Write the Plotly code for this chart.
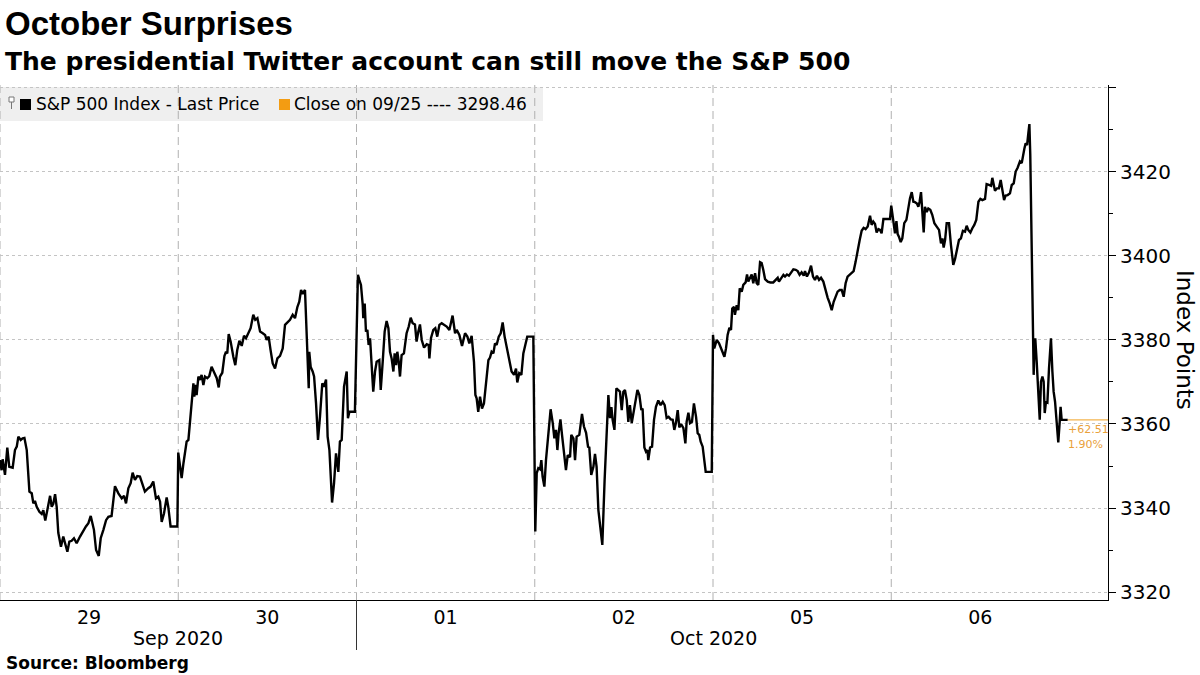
import plotly.graph_objects as go

# ---------------- data ----------------
day_labels = ["29", "30", "01", "02", "05", "06"]
month_labels = ["Sep 2020", "Oct 2020"]
month_centers = [1.0, 4.0]          # in trading-session units
y_ticks = [3320, 3340, 3360, 3380, 3400, 3420, 3440]
y_minor = [3330, 3350, 3370, 3390, 3410, 3430]
close_0925 = 3298.46
series_name = "S&P 500 Index - Last Price"

# (fraction of trading session, index level)
sep29 = [(0.000, 3351.4), (0.009, 3349.0), (0.015, 3351.6), (0.028, 3347.9), (0.041, 3354.4), (0.052, 3349.8),
         (0.071, 3349.6), (0.084, 3353.8), (0.094, 3354.6), (0.103, 3357.0), (0.116, 3356.2), (0.127, 3356.6),
         (0.137, 3356.7), (0.150, 3353.8), (0.165, 3343.9), (0.178, 3343.5), (0.187, 3341.1), (0.196, 3341.7),
         (0.206, 3340.3), (0.221, 3339.1), (0.234, 3338.6), (0.243, 3339.5), (0.254, 3337.0), (0.266, 3339.5),
         (0.281, 3342.9), (0.290, 3340.3), (0.299, 3341.0), (0.309, 3343.3), (0.318, 3340.3), (0.327, 3334.1),
         (0.342, 3330.8), (0.355, 3333.2), (0.365, 3331.6), (0.378, 3329.6), (0.389, 3332.0), (0.402, 3332.2),
         (0.415, 3332.8), (0.430, 3331.6), (0.449, 3333.2), (0.468, 3334.8), (0.482, 3335.6), (0.496, 3336.4),
         (0.509, 3338.1), (0.527, 3334.8), (0.539, 3330.0), (0.554, 3328.6), (0.565, 3332.8), (0.580, 3334.8),
         (0.595, 3337.1), (0.608, 3337.9), (0.626, 3338.1), (0.645, 3345.2), (0.664, 3343.5), (0.683, 3342.3),
         (0.696, 3342.9), (0.707, 3341.1), (0.720, 3344.7), (0.733, 3345.9), (0.744, 3348.4), (0.757, 3346.7),
         (0.770, 3347.6), (0.785, 3347.5), (0.800, 3345.5), (0.813, 3343.9), (0.832, 3344.7), (0.845, 3345.1),
         (0.860, 3346.3), (0.875, 3342.3), (0.888, 3342.7), (0.898, 3341.5), (0.907, 3336.7), (0.920, 3338.7),
         (0.935, 3342.5), (0.944, 3340.3), (0.957, 3335.6), (0.995, 3335.6)]

sep30 = [(0.000, 3353.2), (0.010, 3349.8), (0.019, 3347.1), (0.029, 3350.6), (0.038, 3353.8), (0.047, 3355.8),
         (0.057, 3356.2), (0.066, 3361.0), (0.075, 3365.7), (0.085, 3369.7), (0.090, 3366.5), (0.098, 3369.3),
         (0.103, 3366.9), (0.113, 3371.3), (0.122, 3370.5), (0.131, 3371.7), (0.141, 3369.3), (0.150, 3371.3),
         (0.163, 3370.9), (0.174, 3371.4), (0.187, 3373.6), (0.201, 3372.1), (0.216, 3370.9), (0.227, 3368.7),
         (0.234, 3371.3), (0.247, 3372.2), (0.259, 3376.2), (0.268, 3377.2), (0.275, 3376.8), (0.283, 3381.4),
         (0.294, 3379.6), (0.309, 3376.0), (0.320, 3374.0), (0.331, 3377.6), (0.343, 3379.8), (0.356, 3378.6),
         (0.369, 3381.0), (0.380, 3380.4), (0.393, 3381.6), (0.406, 3382.8), (0.421, 3386.0), (0.432, 3384.8),
         (0.444, 3385.2), (0.459, 3382.0), (0.474, 3381.6), (0.487, 3381.2), (0.496, 3380.0), (0.507, 3380.8),
         (0.518, 3377.6), (0.530, 3374.4), (0.543, 3373.2), (0.556, 3375.6), (0.571, 3376.2), (0.586, 3378.0),
         (0.599, 3383.6), (0.612, 3384.1), (0.627, 3384.8), (0.642, 3386.0), (0.655, 3385.2), (0.668, 3387.8),
         (0.679, 3389.1), (0.689, 3391.9), (0.698, 3391.0), (0.711, 3391.9), (0.720, 3382.4), (0.726, 3372.9),
         (0.732, 3368.5), (0.735, 3377.2), (0.743, 3373.6), (0.754, 3372.5), (0.762, 3371.3), (0.773, 3364.9),
         (0.784, 3356.2), (0.795, 3361.7), (0.808, 3369.7), (0.818, 3368.9), (0.829, 3370.6), (0.838, 3357.0),
         (0.848, 3353.8), (0.863, 3341.3), (0.874, 3345.9), (0.885, 3353.0), (0.898, 3348.6), (0.907, 3355.8),
         (0.917, 3356.2), (0.930, 3368.9), (0.945, 3372.5), (0.952, 3361.4), (0.960, 3362.9), (0.991, 3362.9)]

oct01 = [(0.002, 3390.7), (0.008, 3395.5), (0.016, 3394.3), (0.025, 3393.1), (0.035, 3388.3), (0.038, 3385.2),
         (0.046, 3388.7), (0.053, 3382.0), (0.061, 3382.4), (0.068, 3378.8), (0.076, 3380.4), (0.085, 3374.8),
         (0.094, 3367.7), (0.104, 3372.5), (0.113, 3374.8), (0.128, 3375.2), (0.136, 3368.1), (0.147, 3374.8),
         (0.158, 3382.0), (0.169, 3384.5), (0.179, 3382.8), (0.188, 3377.2), (0.197, 3375.6), (0.207, 3372.5),
         (0.214, 3376.8), (0.222, 3374.0), (0.229, 3377.2), (0.237, 3374.8), (0.244, 3371.3), (0.253, 3376.4),
         (0.266, 3376.8), (0.281, 3381.6), (0.293, 3383.2), (0.304, 3385.3), (0.315, 3384.0), (0.328, 3383.7),
         (0.337, 3379.6), (0.347, 3382.0), (0.356, 3383.7), (0.366, 3380.0), (0.379, 3378.2), (0.394, 3379.0),
         (0.405, 3378.8), (0.409, 3375.6), (0.418, 3380.5), (0.431, 3382.4), (0.442, 3382.8), (0.453, 3380.8),
         (0.465, 3383.6), (0.478, 3384.0), (0.491, 3383.6), (0.506, 3383.2), (0.521, 3382.4), (0.530, 3384.4),
         (0.539, 3385.8), (0.553, 3381.6), (0.562, 3382.4), (0.577, 3381.2), (0.592, 3378.6), (0.609, 3381.6),
         (0.622, 3380.8), (0.633, 3379.2), (0.646, 3381.0), (0.659, 3374.8), (0.667, 3366.9), (0.674, 3366.1),
         (0.683, 3362.9), (0.693, 3366.5), (0.704, 3363.7), (0.715, 3364.9), (0.726, 3369.3), (0.740, 3375.2),
         (0.749, 3375.8), (0.758, 3377.2), (0.768, 3376.8), (0.777, 3379.2), (0.786, 3378.8), (0.798, 3380.8),
         (0.809, 3381.6), (0.820, 3384.2), (0.831, 3380.8), (0.842, 3378.4), (0.857, 3375.2), (0.870, 3372.5),
         (0.884, 3371.7), (0.895, 3373.2), (0.902, 3369.9), (0.913, 3372.1), (0.925, 3371.7), (0.936, 3376.8),
         (0.947, 3378.8), (0.958, 3380.8), (0.992, 3380.8)]

oct02 = [(0.003, 3334.4), (0.011, 3348.3), (0.020, 3349.5), (0.030, 3349.2), (0.037, 3351.4), (0.044, 3347.5),
         (0.054, 3345.1), (0.063, 3351.4), (0.076, 3357.8), (0.089, 3363.5), (0.101, 3360.2), (0.110, 3356.6),
         (0.119, 3358.6), (0.127, 3353.8), (0.134, 3357.8), (0.144, 3361.1), (0.153, 3357.4), (0.164, 3353.0),
         (0.175, 3349.0), (0.185, 3352.6), (0.198, 3352.1), (0.205, 3357.4), (0.217, 3356.6), (0.226, 3351.4),
         (0.235, 3357.0), (0.250, 3357.4), (0.265, 3362.4), (0.276, 3359.4), (0.288, 3357.9), (0.299, 3354.6),
         (0.306, 3354.4), (0.317, 3347.9), (0.329, 3349.8), (0.338, 3352.9), (0.347, 3349.8), (0.357, 3339.5),
         (0.366, 3336.4), (0.379, 3331.2), (0.392, 3346.7), (0.403, 3357.8), (0.413, 3366.9), (0.422, 3361.4),
         (0.430, 3364.0), (0.437, 3361.0), (0.447, 3358.6), (0.458, 3368.5), (0.469, 3368.1), (0.478, 3367.7),
         (0.488, 3363.3), (0.497, 3367.7), (0.506, 3368.1), (0.516, 3365.7), (0.525, 3360.5), (0.534, 3364.5),
         (0.544, 3360.2), (0.553, 3362.6), (0.564, 3365.1), (0.576, 3368.1), (0.587, 3366.9), (0.598, 3363.3),
         (0.605, 3363.7), (0.615, 3354.4), (0.624, 3353.4), (0.632, 3353.8), (0.637, 3351.4), (0.647, 3354.4),
         (0.658, 3354.6), (0.669, 3361.0), (0.680, 3364.1), (0.693, 3365.6), (0.706, 3364.5), (0.718, 3365.3),
         (0.729, 3364.5), (0.740, 3361.4), (0.751, 3361.7), (0.763, 3361.1), (0.774, 3361.0), (0.783, 3358.6),
         (0.792, 3360.2), (0.802, 3363.3), (0.811, 3359.2), (0.821, 3360.0), (0.834, 3359.0), (0.845, 3355.4),
         (0.852, 3360.5), (0.862, 3362.7), (0.871, 3360.2), (0.882, 3360.5), (0.893, 3364.9), (0.905, 3361.7),
         (0.914, 3357.8), (0.923, 3357.4), (0.931, 3355.8), (0.942, 3354.6), (0.959, 3348.6), (0.993, 3348.6)]

oct05 = [(0.000, 3381.2), (0.007, 3378.0), (0.021, 3380.0), (0.034, 3379.2), (0.049, 3377.6), (0.064, 3376.0),
         (0.073, 3378.0), (0.082, 3381.2), (0.092, 3382.9), (0.101, 3382.4), (0.108, 3387.5), (0.118, 3387.9),
         (0.123, 3386.0), (0.133, 3388.3), (0.142, 3387.1), (0.150, 3392.3), (0.161, 3391.5), (0.170, 3393.1),
         (0.183, 3393.7), (0.191, 3395.6), (0.198, 3393.9), (0.209, 3394.7), (0.217, 3395.6), (0.226, 3393.5),
         (0.236, 3395.9), (0.245, 3393.5), (0.254, 3393.1), (0.264, 3398.5), (0.273, 3398.3), (0.282, 3396.7),
         (0.292, 3394.5), (0.307, 3393.9), (0.322, 3393.7), (0.338, 3393.7), (0.352, 3394.3), (0.363, 3394.8),
         (0.370, 3393.9), (0.381, 3394.5), (0.395, 3395.5), (0.404, 3395.1), (0.415, 3395.6), (0.426, 3395.3),
         (0.438, 3396.1), (0.451, 3396.8), (0.464, 3396.7), (0.475, 3396.4), (0.486, 3395.5), (0.497, 3396.1),
         (0.509, 3395.3), (0.516, 3396.4), (0.527, 3395.1), (0.539, 3396.1), (0.550, 3397.7), (0.561, 3395.1),
         (0.572, 3394.3), (0.583, 3395.3), (0.595, 3394.3), (0.606, 3394.8), (0.619, 3393.9), (0.632, 3391.5),
         (0.643, 3390.1), (0.655, 3388.7), (0.666, 3387.1), (0.677, 3389.1), (0.688, 3390.3), (0.699, 3391.5),
         (0.711, 3391.9), (0.722, 3391.9), (0.733, 3390.3), (0.744, 3393.5), (0.755, 3395.1), (0.767, 3395.6),
         (0.778, 3395.9), (0.789, 3396.4), (0.800, 3398.6), (0.812, 3401.7), (0.823, 3403.8), (0.834, 3406.0),
         (0.845, 3406.7), (0.856, 3406.4), (0.868, 3407.0), (0.881, 3409.6), (0.890, 3407.4), (0.899, 3408.2),
         (0.909, 3407.6), (0.918, 3405.6), (0.928, 3406.4), (0.937, 3406.2), (0.946, 3405.4), (0.956, 3408.8),
         (0.993, 3408.8)]

oct06 = [(0.000, 3412.0), (0.006, 3409.8), (0.014, 3407.8), (0.021, 3405.4), (0.029, 3408.3), (0.036, 3405.2),
         (0.043, 3404.6), (0.053, 3403.3), (0.062, 3404.2), (0.073, 3407.8), (0.085, 3408.6), (0.096, 3411.7),
         (0.105, 3413.7), (0.115, 3415.2), (0.124, 3412.9), (0.133, 3412.8), (0.144, 3412.5), (0.152, 3411.7),
         (0.159, 3412.9), (0.167, 3415.2), (0.174, 3410.5), (0.182, 3405.6), (0.189, 3411.7), (0.199, 3410.5),
         (0.208, 3411.3), (0.219, 3411.0), (0.230, 3409.8), (0.242, 3407.8), (0.255, 3407.0), (0.268, 3406.2),
         (0.279, 3403.0), (0.287, 3404.2), (0.294, 3402.0), (0.302, 3403.8), (0.311, 3407.8), (0.324, 3407.8),
         (0.335, 3402.6), (0.348, 3397.9), (0.358, 3399.3), (0.369, 3401.8), (0.380, 3403.8), (0.391, 3404.2),
         (0.402, 3406.0), (0.414, 3405.8), (0.423, 3407.2), (0.432, 3406.2), (0.444, 3405.6), (0.455, 3406.6),
         (0.466, 3407.4), (0.477, 3408.6), (0.489, 3412.9), (0.500, 3413.6), (0.511, 3413.3), (0.526, 3413.6),
         (0.535, 3417.1), (0.548, 3416.9), (0.560, 3416.7), (0.567, 3418.6), (0.575, 3416.3), (0.582, 3415.5),
         (0.593, 3416.1), (0.604, 3416.1), (0.614, 3418.1), (0.623, 3416.0), (0.633, 3413.3), (0.642, 3414.4),
         (0.653, 3414.5), (0.666, 3414.9), (0.676, 3416.9), (0.687, 3417.3), (0.698, 3420.1), (0.709, 3421.0),
         (0.722, 3422.5), (0.732, 3422.1), (0.739, 3424.2), (0.747, 3425.6), (0.754, 3426.8), (0.762, 3426.4),
         (0.769, 3429.2), (0.775, 3431.4), (0.780, 3424.0), (0.788, 3400.2), (0.795, 3379.6), (0.799, 3371.7),
         (0.803, 3378.0), (0.808, 3380.4), (0.816, 3374.8), (0.825, 3365.3), (0.833, 3361.0), (0.840, 3370.1),
         (0.848, 3371.3), (0.855, 3370.1), (0.861, 3362.6), (0.868, 3365.3), (0.876, 3365.1), (0.885, 3373.2),
         (0.896, 3380.4), (0.904, 3372.5), (0.911, 3367.7), (0.919, 3365.3), (0.928, 3359.8), (0.937, 3355.6),
         (0.945, 3360.5), (0.950, 3364.1), (0.956, 3361.0), (0.965, 3361.0), (0.990, 3360.97)]

sessions = [sep29, sep30, oct01, oct02, oct05, oct06]

# ---------------- build ----------------
t, price = [], []
for i, sess in enumerate(sessions):
    for frac, val in sess:
        t.append(i + frac)
        price.append(val)

last = price[-1]
chg = last - close_0925
pct = chg / close_0925 * 100

W, H = 1200, 675
L, R, T, B = 0, 92, 85, 75
PW, PH = W - L - R, H - T - B
X_END = 6.216


def px(xp):   # pixel x -> paper
    return (xp - L) / PW


def py(yp):   # pixel y -> paper
    return (H - B - yp) / PH


FONT = "DejaVu Sans"
ORANGE = "#f39c12"
ORANGE_TXT = "#e9a03a"

fig = go.Figure()
fig.add_trace(go.Scatter(x=t, y=price, mode="lines", name=series_name,
                         line=dict(color="black", width=2.4), hoverinfo="x+y"))
fig.add_trace(go.Scatter(x=[t[-1], X_END], y=[last, last], mode="lines",
                         line=dict(color="#f0a020", width=1), hoverinfo="skip"))

shapes = []
# legend background
shapes.append(dict(type="rect", xref="paper", yref="paper", x0=px(0), x1=px(543), y0=py(121), y1=py(87),
                   fillcolor="#efefef", line=dict(width=0), layer="below"))
# session separators
for i in range(len(sessions)):
    shapes.append(dict(type="line", xref="x", yref="paper", x0=i, x1=i, y0=0, y1=1,
                       line=dict(color="#b0b0b0", width=1, dash="8px,5px"), layer="below"))
# month separator below axis
shapes.append(dict(type="line", xref="x", yref="paper", x0=2, x1=2, y0=py(650), y1=0,
                   line=dict(color="#333333", width=1)))
# legend icons
shapes.append(dict(type="rect", xref="paper", yref="paper", x0=px(9), x1=px(14), y0=py(102), y1=py(97),
                   line=dict(color="#777777", width=1), fillcolor="white"))
shapes.append(dict(type="line", xref="paper", yref="paper", x0=px(11.5), x1=px(11.5), y0=py(109), y1=py(102),
                   line=dict(color="#777777", width=1)))
shapes.append(dict(type="rect", xref="paper", yref="paper", x0=px(20), x1=px(31), y0=py(110), y1=py(99),
                   fillcolor="black", line=dict(width=0)))
shapes.append(dict(type="rect", xref="paper", yref="paper", x0=px(279), x1=px(290), y0=py(110), y1=py(99),
                   fillcolor=ORANGE, line=dict(width=0)))

ann = []


def text(x, y, s, size, bold=False, family=FONT, color="black", xanchor="left", angle=0):
    ann.append(dict(xref="paper", yref="paper", x=px(x), y=py(y), text=(f"<b>{s}</b>" if bold else s),
                    showarrow=False, xanchor=xanchor, yanchor="middle", textangle=angle,
                    font=dict(family=family, size=size, color=color)))


text(3, 23, "October Surprises", 33, bold=True, family="Liberation Sans")
text(3, 61, "The presidential Twitter account can still move the S&amp;P 500", 25, bold=True)
text(34, 104, series_name.replace("&", "&amp;"), 17)
text(292, 104, f"Close on 09/25 ---- {close_0925:.2f}", 17)
text(1185, 340, "Index Points", 23, angle=90, xanchor="center")
text(1066, 429, f"{chg:+.2f}", 11, color=ORANGE_TXT)
text(1066, 444, f"{pct:.2f}%", 11, color=ORANGE_TXT)
text(4, 663, "Source: Bloomberg", 17, bold=True)
for lab, c in zip(month_labels, month_centers):
    ann.append(dict(xref="x", yref="paper", x=c, y=py(638), text=lab, showarrow=False,
                    xanchor="center", yanchor="middle", font=dict(family=FONT, size=19, color="black")))

fig.update_layout(
    width=W, height=H, margin=dict(l=L, r=R, t=T, b=B),
    paper_bgcolor="white", plot_bgcolor="white", showlegend=False,
    shapes=shapes, annotations=ann,
    xaxis=dict(range=[0, X_END], tickvals=[i + 0.5 for i in range(len(day_labels))], ticktext=day_labels,
               showgrid=False, zeroline=False, showline=True, linecolor="black", linewidth=1, ticks="",
               tickfont=dict(family=FONT, size=19, color="black")),
    yaxis=dict(side="right", range=[3318.1, 3440.7], tickvals=y_ticks,
               ticktext=[str(v) if v < y_ticks[-1] else "" for v in y_ticks],
               showgrid=True, gridcolor="#c4c4c4", griddash="dot", gridwidth=1, zeroline=False,
               showline=True, linecolor="black", linewidth=1, ticks="outside", ticklen=7, tickcolor="black",
               minor=dict(tickvals=y_minor, ticks="outside", ticklen=4, tickcolor="black", showgrid=False),
               tickfont=dict(family=FONT, size=20, color="black")),
)

fig.write_html("out.html", config={"displayModeBar": False},
               post_script="document.body.style.margin='0px';document.body.style.padding='0px';")
